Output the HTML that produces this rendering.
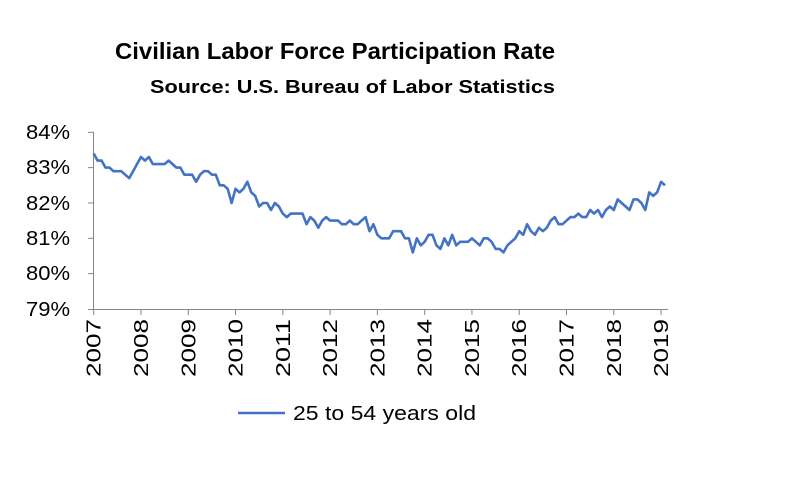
<!DOCTYPE html>
<html><head><meta charset="utf-8"><style>
body{margin:0;background:#fff;width:793px;height:480px;overflow:hidden;font-family:"Liberation Sans",Arial,sans-serif}
</style></head><body>
<svg id="s" width="793" height="480" xmlns="http://www.w3.org/2000/svg" font-family="Liberation Sans, Arial, sans-serif">
<text x="115" y="59" font-size="23" font-weight="bold" fill="#000" textLength="440" lengthAdjust="spacingAndGlyphs">Civilian Labor Force Participation Rate</text>
<text x="150" y="93" font-size="18" font-weight="bold" fill="#000" textLength="405" lengthAdjust="spacingAndGlyphs">Source:  U.S. Bureau of Labor Statistics</text>
<g font-size="20" fill="#000">
<text x="26" y="139" textLength="44" lengthAdjust="spacingAndGlyphs">84%</text><text x="26" y="174" textLength="44" lengthAdjust="spacingAndGlyphs">83%</text><text x="26" y="210" textLength="44" lengthAdjust="spacingAndGlyphs">82%</text>
<text x="26" y="245" textLength="44" lengthAdjust="spacingAndGlyphs">81%</text><text x="26" y="280" textLength="44" lengthAdjust="spacingAndGlyphs">80%</text><text x="26" y="316" textLength="44" lengthAdjust="spacingAndGlyphs">79%</text>
</g>
<g stroke="#868686" stroke-width="1" fill="none" id="ax">
<line x1="93.5" y1="132" x2="93.5" y2="309"/>
<line x1="93" y1="309.5" x2="668" y2="309.5"/>
</g>
<polyline id="pl" fill="none" stroke="#4472C4" stroke-width="2.6" stroke-linejoin="round"/>
<g id="xl" font-size="20" fill="#000"></g>
<line x1="238" y1="413" x2="285" y2="413" stroke="#4472C4" stroke-width="2.6"/>
<text x="293" y="420" font-size="20" fill="#000" textLength="183" lengthAdjust="spacingAndGlyphs">25 to 54 years old</text>
</svg>
<script>
var d=[83.4,83.2,83.2,83.0,83.0,82.9,82.9,82.9,82.8,82.7,82.9,83.1,
83.3,83.2,83.3,83.1,83.1,83.1,83.1,83.2,83.1,83.0,83.0,82.8,
82.8,82.8,82.6,82.8,82.9,82.9,82.8,82.8,82.5,82.5,82.4,82.0,
82.4,82.3,82.4,82.6,82.3,82.2,81.9,82.0,82.0,81.8,82.0,81.9,
81.7,81.6,81.7,81.7,81.7,81.7,81.4,81.6,81.5,81.3,81.5,81.6,
81.5,81.5,81.5,81.4,81.4,81.5,81.4,81.4,81.5,81.6,81.2,81.4,
81.1,81.0,81.0,81.0,81.2,81.2,81.2,81.0,81.0,80.6,81.0,80.8,
80.9,81.1,81.1,80.8,80.7,81.0,80.8,81.1,80.8,80.9,80.9,80.9,
81.0,80.9,80.8,81.0,81.0,80.9,80.7,80.7,80.6,80.8,80.9,81.0,
81.2,81.1,81.4,81.2,81.1,81.3,81.2,81.3,81.5,81.6,81.4,81.4,
81.5,81.6,81.6,81.7,81.6,81.6,81.8,81.7,81.8,81.6,81.8,81.9,
81.8,82.1,82.0,81.9,81.8,82.1,82.1,82.0,81.8,82.3,82.2,82.3,
82.6,82.5];
var x0=93.7,mx=3.94,p=[];
for(var i=0;i<d.length;i++){p.push((x0+i*mx).toFixed(1)+","+(132.3+(84-d[i])*35.33).toFixed(1));}
document.getElementById('pl').setAttribute('points',p.join(' '));
var ns="http://www.w3.org/2000/svg",ax=document.getElementById('ax'),xl=document.getElementById('xl');
for(var k=0;k<=5;k++){var l=document.createElementNS(ns,'line');var y=132.3+k*35.33;if(k==5)y=309.5;
l.setAttribute('x1',88);l.setAttribute('x2',93.5);l.setAttribute('y1',y);l.setAttribute('y2',y);ax.appendChild(l);}
for(var yr=0;yr<=12;yr++){var x=x0+yr*12*mx;
var t=document.createElementNS(ns,'line');t.setAttribute('x1',x);t.setAttribute('x2',x);t.setAttribute('y1',309);t.setAttribute('y2',315);ax.appendChild(t);
var tx=document.createElementNS(ns,'text');tx.setAttribute('transform','translate('+(x+7)+',377) rotate(-90)');tx.setAttribute('textLength','58');tx.setAttribute('lengthAdjust','spacingAndGlyphs');tx.textContent=2007+yr;xl.appendChild(tx);}
</script>
</body></html>
